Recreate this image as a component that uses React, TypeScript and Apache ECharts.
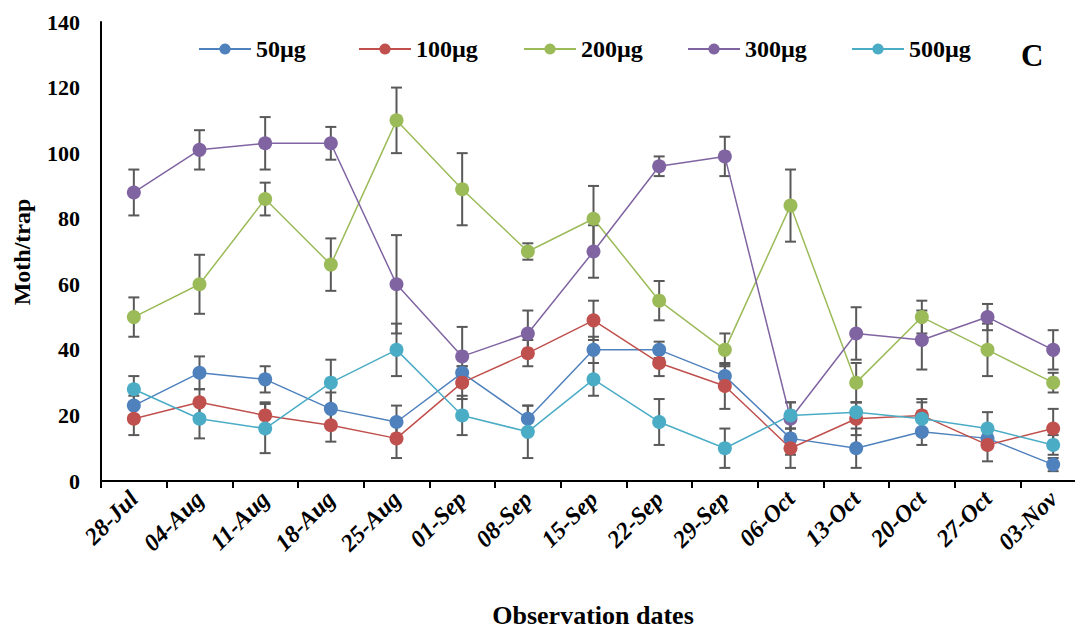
import React, { useEffect, useRef } from "react";
import * as echarts from "echarts";

const dates = ["28-Jul", "04-Aug", "11-Aug", "18-Aug", "25-Aug", "01-Sep", "08-Sep", "15-Sep", "22-Sep", "29-Sep", "06-Oct", "13-Oct", "20-Oct", "27-Oct", "03-Nov"];
const seriesNames = ["50µg", "100µg", "200µg", "300µg", "500µg"];
const colors = ["#4F81BD", "#C0504D", "#9BBB59", "#8064A2", "#4BACC6"];

const v50 = [23, 33, 31, 22, 18, 33, 19, 40, 40, 32, 13, 10, 15, 13, 5];
const v100 = [19, 24, 20, 17, 13, 30, 39, 49, 36, 29, 10, 19, 20, 11, 16];
const v200 = [50, 60, 86, 66, 110, 89, 70, 80, 55, 40, 84, 30, 50, 40, 30];
const v300 = [88, 101, 103, 103, 60, 38, 45, 70, 96, 99, 19, 45, 43, 50, 40];
const v500 = [28, 19, 16, 30, 40, 20, 15, 31, 18, 10, 20, 21, 19, 16, 11];

const e50 = [3, 5, 4, 5, 5, 2, 4, 4, 2.5, 3.5, 5, 6, 4, 3, 2];
const e100 = [5, 4, 4, 5, 6, 5, 4, 6, 4, 7, 6, 5, 5, 5, 6];
const e200 = [6, 9, 5, 8, 10, 11, 2.5, 10, 6, 5, 11, 6, 5, 8, 3];
const e300 = [7, 6, 8, 5, 15, 9, 7, 8, 3, 6, 5, 8, 9, 4, 6];
const e500 = [4, 6, 7.5, 7, 8, 6, 8, 5, 7, 6, 4, 3, 5, 5, 3];

const yTicks = [0, 20, 40, 60, 80, 100, 120, 140];

const values = [v50, v100, v200, v300, v500];
const errors = [e50, e100, e200, e300, e500];

const FONT = "'Times New Roman', 'Liberation Serif', serif";
const legendLefts = [198, 358, 523, 687, 851];

export default function App() {
  const ref = useRef<HTMLDivElement>(null);
  useEffect(() => {
    if (!ref.current) return;
    const chart = echarts.init(ref.current, undefined, { renderer: "svg" });

    const lineSeries = seriesNames.map((name, i) => ({
      name,
      type: "line",
      data: values[i],
      z: 3,
      symbol: "circle",
      symbolSize: 14,
      itemStyle: { color: colors[i], opacity: 1 },
      lineStyle: { color: colors[i], width: 1.5 },
    }));

    const errSeries = seriesNames.map((name, i) => ({
      name: name + " err",
      type: "custom",
      z: 2,
      silent: true,
      data: values[i].map((v, j) => [j, v, errors[i][j]]),
      encode: { x: 0, y: 1 },
      renderItem: (params: any, api: any) => {
        const x = api.value(0);
        const y = api.value(1);
        const e = api.value(2);
        const hi = api.coord([x, y + e]);
        const lo = api.coord([x, y - e]);
        const hw = 5.5;
        const st = { stroke: "#595959", lineWidth: 2 };
        return {
          type: "group",
          children: [
            { type: "line", shape: { x1: hi[0], y1: hi[1], x2: lo[0], y2: lo[1] }, style: st },
            { type: "line", shape: { x1: hi[0] - hw, y1: hi[1], x2: hi[0] + hw, y2: hi[1] }, style: st },
            { type: "line", shape: { x1: lo[0] - hw, y1: lo[1], x2: lo[0] + hw, y2: lo[1] }, style: st },
          ],
        };
      },
    }));

    const legends = seriesNames.map((name, i) => ({
      data: [name],
      left: legendLefts[i],
      top: 37,
      padding: 0,
      itemWidth: 52,
      itemHeight: 14,
      itemGap: 0,
      textStyle: { fontFamily: FONT, fontWeight: "bold", fontSize: 24, color: "#000" },
    }));

    chart.setOption({
      animation: false,
      backgroundColor: "#fff",
      grid: { left: 101, right: -11, top: 22, bottom: 147, containLabel: false, outerBoundsMode: "none" },
      legend: legends,
      xAxis: {
        type: "category",
        data: dates,
        boundaryGap: true,
        axisLine: { lineStyle: { color: "#000", width: 2 } },
        axisTick: { show: true, length: 7, lineStyle: { color: "#000", width: 2 }, interval: 0 },
        axisLabel: {
          interval: 0,
          rotate: 45,
          margin: 14,
          fontFamily: FONT,
          fontWeight: "bold",
          fontStyle: "italic",
          fontSize: 24,
          color: "#000",
        },
        splitLine: { show: false },
      },
      yAxis: {
        type: "value",
        min: yTicks[0],
        max: yTicks[yTicks.length - 1],
        interval: yTicks[1] - yTicks[0],
        axisLine: { show: true, lineStyle: { color: "#000", width: 2 } },
        axisTick: { show: false },
        axisLabel: { margin: 21, fontFamily: FONT, fontWeight: "bold", fontSize: 22, color: "#000" },
        splitLine: { show: false },
      },
      graphic: [
        {
          type: "text",
          left: 1021,
          top: 40,
          style: { text: "C", fontFamily: FONT, fontWeight: "bold", fontSize: 31, fill: "#000" },
        },
        {
          type: "text",
          x: 593,
          y: 615,
          style: {
            text: "Observation dates",
            fontFamily: FONT,
            fontWeight: "bold",
            fontSize: 26,
            fill: "#000",
            align: "center",
            verticalAlign: "middle",
          },
        },
        {
          type: "text",
          x: 22,
          y: 252,
          rotation: Math.PI / 2,
          style: {
            text: "Moth/trap",
            fontFamily: FONT,
            fontWeight: "bold",
            fontSize: 24,
            fill: "#000",
            align: "center",
            verticalAlign: "middle",
          },
        },
      ],
      series: [...errSeries, ...lineSeries],
    });

    return () => chart.dispose();
  }, []);

  return <div ref={ref} style={{ width: 1075, height: 628, position: "absolute", left: 0, top: 0 }} />;
}
